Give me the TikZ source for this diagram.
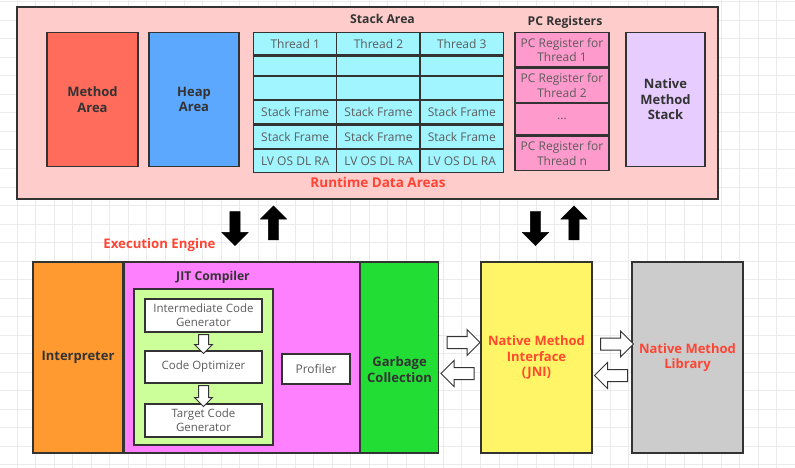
\documentclass[tikz,border=0pt]{standalone}
\usepackage{fontspec}
\setmainfont{Open Sans}
\usetikzlibrary{positioning,calc,shapes.arrows}
\definecolor{boxline}{HTML}{333333}
\definecolor{gridgrey}{HTML}{EBEBEB}
\definecolor{rtpink}{HTML}{FFCCCC}
\definecolor{methodred}{HTML}{FF6C5C}
\definecolor{heapblue}{HTML}{5CA8FF}
\definecolor{stackcyan}{HTML}{A0F5FF}
\definecolor{pcpink}{HTML}{FF9ACC}
\definecolor{nativelilac}{HTML}{E6CCFF}
\definecolor{interporange}{HTML}{FF9A30}
\definecolor{jitmagenta}{HTML}{FF80FF}
\definecolor{jitgreen}{HTML}{CCFF99}
\definecolor{gcgreen}{HTML}{22DD33}
\definecolor{jniyellow}{HTML}{FFF566}
\definecolor{libgrey}{HTML}{CCCCCC}
\definecolor{labelred}{HTML}{FF4433}
\tikzset{
  gridline/.style={draw=gridgrey, line width=0.6pt},
  area/.style={draw=boxline, line width=1.3pt, inner sep=0pt, align=center,
    text=boxline, font=\bfseries\fontsize{13}{15.5}\selectfont},
  cell/.style={draw=boxline, line width=1.3pt, inner sep=0pt, align=center,
    fill=stackcyan, minimum width=83.6pt, text=boxline!80,
    font=\fontsize{12}{14.3}\selectfont},
  pcreg/.style={cell, fill=pcpink, minimum width=94pt},
  stepbox/.style={cell, fill=white, minimum width=117pt,
    font=\fontsize{11.5}{14}\selectfont},
  title/.style={text=boxline, font=\bfseries\fontsize{12.2}{14}\selectfont},
  redtitle/.style={text=labelred, font=\bfseries\fontsize{13.5}{16}\selectfont},
  blockarrow/.style={single arrow, fill=black, draw=black, inner xsep=0pt,
    inner ysep=5pt, single arrow head extend=8pt, minimum height=34pt},
  hollowarrow/.style={single arrow, fill=white, draw=boxline, line width=1pt,
    inner xsep=0pt, inner ysep=5.5pt, single arrow head extend=7pt, minimum height=33pt},
  smallarrow/.style={hollowarrow, inner ysep=4.5pt, single arrow head extend=4pt,
    minimum height=19pt}
}
\begin{document}
\begin{tikzpicture}[x=1pt,y=-1pt]
\useasboundingbox (0,0) rectangle (795,468);
% background grid
\foreach \i in {0,...,43}
  \draw[gridline] ({-1.5+18.53*\i},0) -- ({-1.5+18.53*\i},468);
\foreach \j in {0,...,25}
  \draw[gridline] (0,{1.5+18.53*\j}) -- (795,{1.5+18.53*\j});

% runtime data areas
\node[area, fill=rtpink, minimum width=701pt, minimum height=192pt] (runtime) at (367.5,103) {};
\node[redtitle] (rtlabel) at (378,182) {Runtime Data Areas};
\node[area, fill=methodred, minimum width=91pt, minimum height=134.4pt] (method) at (92.5,99.5) {Method\\Area};
\node[area, fill=heapblue, minimum width=90pt, minimum height=134.4pt] (heap) at (194,99.5) {Heap\\Area};

\node[title] (stacklabel) at (382.5,19) {Stack Area};
\foreach \c/\x in {1/295.2,2/378.5,3/461.8} {
  \node[cell, minimum height=22.7pt] (th\c) at (\x,43.7) {Thread \c};
  \node[cell, minimum height=19pt, below=0pt of th\c] (ea\c) {};
  \node[cell, minimum height=22.7pt, below=0pt of ea\c] (eb\c) {};
  \node[cell, minimum height=23.3pt, below=0pt of eb\c] (sfa\c) {Stack Frame};
  \node[cell, minimum height=23.3pt, below=0pt of sfa\c] (sfb\c) {Stack Frame};
  \node[cell, minimum height=22.4pt, below=0pt of sfb\c] (lv\c) {LV OS DL RA};
}

\node[title] (pclabel) at (565,22) {PC Registers};
\node[pcreg, minimum height=34.7pt] (pc1) at (562,49.7) {PC Register for\\Thread 1};
\node[pcreg, minimum height=34pt, below=0pt of pc1] (pc2) {PC Register for\\Thread 2};
\node[pcreg, minimum height=31.3pt, below=0pt of pc2] (pcdots) {...};
\node[pcreg, minimum height=34.4pt, below=0pt of pcdots] (pcn) {PC Register for\\Thread n};

\node[area, fill=nativelilac, minimum width=79pt, minimum height=134.4pt] (nstack) at (665.5,99.5) {Native\\Method\\Stack};

% arrows between the two parts
\node[blockarrow, rotate=-90] (down1) at (235,226) {};
\node[blockarrow, rotate=90] (up1) at (273.5,225.5) {};
\node[blockarrow, rotate=-90] (down2) at (535.5,226) {};
\node[blockarrow, rotate=90] (up2) at (574,225.5) {};

% execution engine
\node[redtitle, font=\bfseries\fontsize{13.2}{16}\selectfont] (eelabel) at (159.5,245) {Execution Engine};
\node[area, fill=interporange, minimum width=90pt, minimum height=191pt] (interp) at (78,357.5) {Interpreter};
\node[area, fill=jitmagenta, minimum width=235pt, minimum height=191pt, right=0pt of interp] (jit) {};
\node[area, fill=gcgreen, minimum width=78pt, minimum height=191pt, right=0pt of jit] (gc) {};
\node[area, draw=none] (gctext) at ([yshift=-12pt]gc.center) {Garbage\\Collection};
\node[title] (jitlabel) at (213,277) {JIT Compiler};
\node[area, fill=jitgreen, minimum width=139pt, minimum height=156pt] (steps) at (203.5,367) {};
\node[stepbox, minimum height=33pt] (icg) at (203.5,315.5) {Intermediate Code\\Generator};
\node[stepbox, minimum height=32pt] (co) at (203.5,367) {Code Optimizer};
\node[stepbox, minimum height=33pt] (tcg) at (203.5,420.5) {Target Code\\Generator};
\node[smallarrow, rotate=-90] (icgco) at ($(icg.south)!.5!(co.north)$) {};
\node[smallarrow, rotate=-90, minimum height=21pt] (cotcg) at ($(co.south)!.5!(tcg.north)$) {};
\node[stepbox, minimum width=68pt, minimum height=30pt, font=\fontsize{12}{14}\selectfont] (profiler) at (316,369) {Profiler};

% native side
\node[area, fill=jniyellow, minimum width=111pt, minimum height=191pt, text=labelred!90!orange] (jni) at (536.5,357.5) {Native Method\\Interface\\(JNI)};
\node[area, fill=libgrey, minimum width=111pt, minimum height=191pt, text=labelred] (lib) at (687.5,357.5) {Native Method\\Library};
\node[hollowarrow] (gcjni) at (460.5,342.5) {};
\node[hollowarrow, rotate=180] (jnigc) at (460.5,373.5) {};
\node[hollowarrow] (jnilib) at (614,344) {};
\node[hollowarrow, rotate=180] (libjni) at (614,375.5) {};
\end{tikzpicture}
\end{document}
